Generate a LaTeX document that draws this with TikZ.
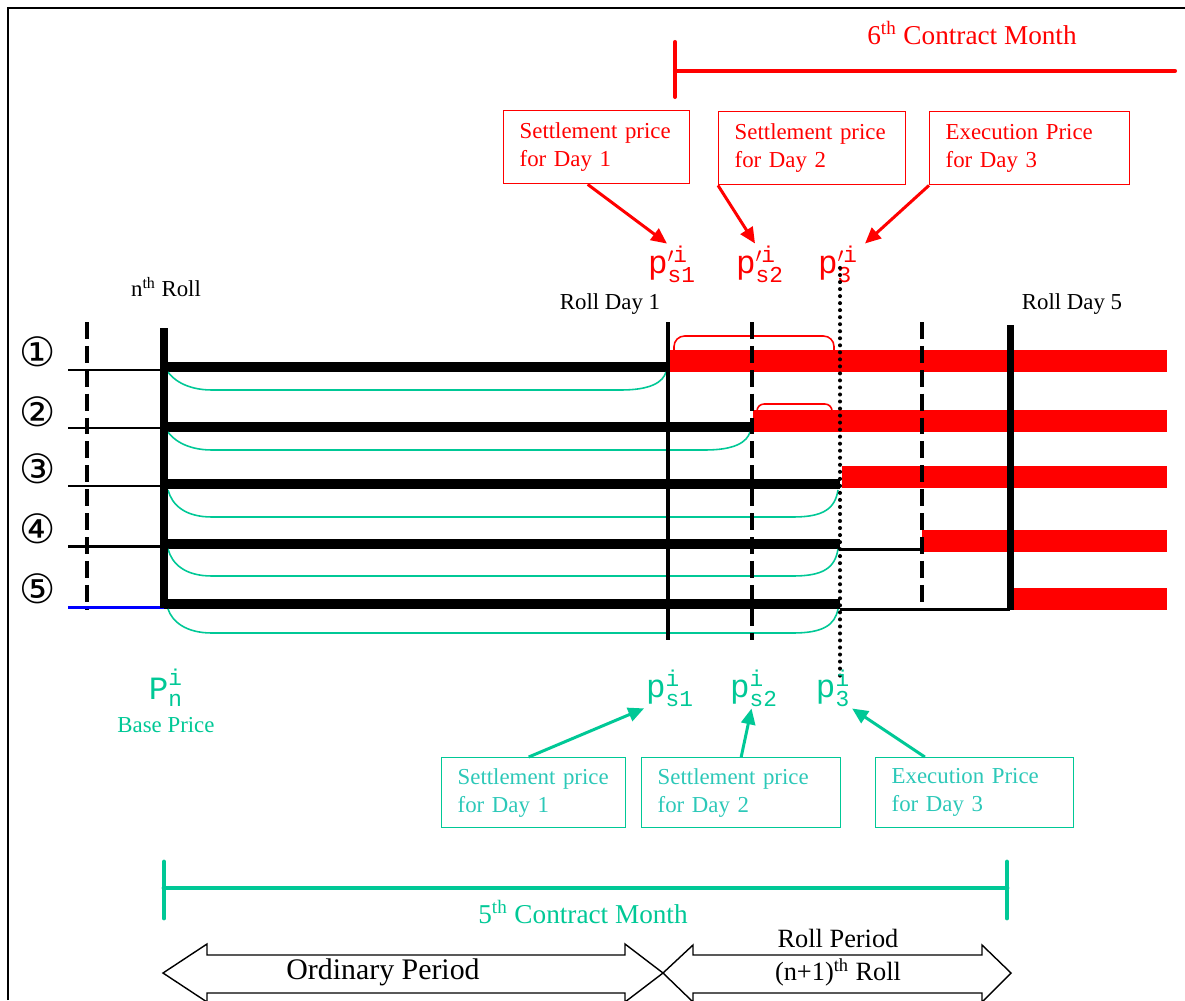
\documentclass[tikz,border=0pt]{standalone}
\usepackage{amsmath}
\usepackage{fontspec}
\setmainfont{Liberation Serif}
\setmonofont{Liberation Mono}
\newfontfamily\circfont{DejaVu Sans}
\usetikzlibrary{arrows.meta,positioning,calc}
\definecolor{MRed}{HTML}{FF0000}
\definecolor{MTeal}{HTML}{00C896}
\definecolor{MAqua}{HTML}{2CC8B8}
\definecolor{MBlue}{HTML}{0000FF}
\newcommand{\prlab}[3]{% {letter}{prime}{subscript}
  $\text{\ttfamily #1}^{\vphantom{\prime}#2\text{\ttfamily i}}_{\text{\ttfamily #3}}$}

\begin{document}
\begin{tikzpicture}[x=0.02cm,y=-0.02cm,
    rbox/.style={draw=MRed,text=MRed,line width=0.8pt,align=left,anchor=north west,
      inner xsep=0.32cm,minimum height=1.46cm,font=\fontsize{13}{16}\selectfont},
    gbox/.style={draw=MTeal,text=MAqua,line width=0.8pt,align=left,anchor=north west,
      inner xsep=0.32cm,minimum height=1.4cm,font=\fontsize{13}{16}\selectfont},
    rarr/.style={draw=MRed,line width=1.7pt,-{Triangle[length=9pt,width=8pt]}},
    garr/.style={draw=MTeal,line width=1.7pt,-{Triangle[length=9pt,width=8pt]}},
    lbl/.style={font=\fontsize{13}{15}\selectfont},
    plbl/.style={font=\fontsize{18.5}{21}\selectfont,inner sep=1pt},
    rowbar/.style={line width=5.7pt},
    redbar/.style={draw=MRed,line width=12.5pt},
    pricecurve/.style={draw=MTeal,line width=0.9pt},
    vdash/.style={line width=2.3pt,dash pattern=on 9.6pt off 4pt},
    twoway/.style={draw,line width=0.8pt,fill=white}]
  \useasboundingbox (0,0) rectangle (1185,1000);
  \draw[line width=1.2pt] (8,1000) -- (8,8) -- (1185,8);

  % 6th contract month
  \draw[MRed,line width=2.3pt,line cap=round] (675,42) -- (675,97) (675,71) -- (1175,71);
  \node[text=MRed,font=\fontsize{15.5}{18}\selectfont] (m6) at (972,33) {6\textsuperscript{th} Contract Month};

  \node[rbox,text width=3.08cm] (rb1) at (503,110) {Settlement price\\for Day 1};
  \node[rbox,text width=3.10cm] (rb2) at (718,111) {Settlement price\\for Day 2};
  \node[rbox,text width=3.36cm] (rb3) at (929,111) {Execution Price\\for Day 3};
  \node[plbl,text=MRed] (rp1) at (672,264) {\prlab{p}{\prime}{s1}};
  \node[plbl,text=MRed] (rp2) at (760,264) {\prlab{p}{\prime}{s2}};
  \node[plbl,text=MRed] (rp3) at (838,264) {\prlab{p}{\prime}{3}};
  \draw[rarr] ([xshift=-0.18cm]rb1.south) -- ([xshift=-0.1cm]rp1.north);
  \draw[rarr] (rb2.south west) -- ([xshift=-0.1cm]rp2.north);
  \draw[rarr] (rb3.south west) -- ([xshift=0.1cm]rp3.north east);

  \node[lbl] (nroll) at (166,287) {n\textsuperscript{th} Roll};
  \node[lbl] (day1) at (610,304) {Roll Day 1};
  \node[lbl] (day5) at (1072,304) {Roll Day 5};

  % positions
  \foreach \k/\y/\e/\ry/\rs in {1/367/668/361/668,2/427/752/421/753,3/484/840/477/842,
      4/544/840/541/922,5/604/840/599/1012}{
    \node[font=\circfont\fontsize{23}{23}\selectfont] (c\k) at (38,{\y-15}) {\ifcase\k\or ①\or ②\or ③\or ④\or ⑤\fi};
    \draw[redbar] (\rs,\ry) -- (1167,\ry);
    \draw[rowbar] (164,\y) -- (\e,\y);
  }
  \foreach \y in {370,428,486,546}
    \draw[line width=1.7pt] (68,\y) -- (164,\y);
  \draw[MBlue,line width=1.7pt] (68,607) -- (164,607);
  \draw[line width=1.7pt] (840,549) -- (922,549) (840,609) -- (1010,609);

  \foreach \t/\b/\e in {372/390/666,432/450/750,490/517/838,549/576/838,609/633/838}
    \draw[pricecurve] (168,\t) .. controls (172,{\b-12}) and (185,\b) .. (212,\b)
      -- ({\e-45},\b) .. controls ({\e-15},\b) and ({\e-3},{\b-8}) .. (\e,\t);
  \draw[MRed,line width=0.9pt,rounded corners=6pt] (674,351) -- (674,336) -- (834,336) -- (834,351);
  \draw[MRed,line width=0.9pt,rounded corners=4pt] (757,411) -- (757,404) -- (832,404) -- (832,411);

  % roll days
  \draw[vdash] (87,322) -- (87,610);
  \draw[line width=4pt] (164,328) -- (164,608);
  \draw[line width=2.8pt] (668,322) -- (668,640);
  \draw[vdash] (752,322) -- (752,640);
  \draw[line width=2.3pt,dash pattern=on 0pt off 4pt,line cap=round] (840,268) -- (840,676);
  \draw[vdash] (922,322) -- (922,610);
  \draw[line width=4pt] (1010,325) -- (1010,610);

  \node[plbl,text=MTeal] (gpn) at (166,688) {\prlab{P}{}{n}};
  \node[lbl,text=MTeal] (base) at (166,725) {Base Price};
  \node[plbl,text=MTeal] (gp1) at (670,688) {\prlab{p}{}{s1}};
  \node[plbl,text=MTeal] (gp2) at (754,688) {\prlab{p}{}{s2}};
  \node[plbl,text=MTeal] (gp3) at (833,688) {\prlab{p}{}{3}};
  \node[gbox,text width=3.04cm] (gb1) at (441,757) {Settlement price\\for Day 1};
  \node[gbox,text width=3.34cm] (gb2) at (641,757) {Settlement price\\for Day 2};
  \node[gbox,text width=3.32cm] (gb3) at (875,757) {Execution Price\\for Day 3};
  \draw[garr] ([xshift=-0.1cm]gb1.north) -- (gp1.south west);
  \draw[garr] (gb2.north) -- ([xshift=-0.05cm]gp2.south);
  \draw[garr] ($(gb3.north west)!0.25!(gb3.north east)$) -- (gp3.south east);

  % 5th contract month
  \draw[MTeal,line width=2.8pt,line cap=round] (164,862) -- (164,918) (1007,862) -- (1007,918)
    (164,888) -- (1007,888);
  \node[text=MTeal,font=\fontsize{15.5}{18}\selectfont] (m5) at (583,912) {5\textsuperscript{th} Contract Month};

  \draw[twoway] (163,973) -- (207,944) -- (207,955) -- (625,955) -- (625,944) -- (663,973)
    -- (625,1002) -- (625,993) -- (207,993) -- (207,1002) -- cycle;
  \draw[twoway] (663,973) -- (693,945) -- (693,955) -- (982,955) -- (982,945) -- (1011,973)
    -- (982,1002) -- (982,993) -- (693,993) -- (693,1002) -- cycle;
  \node[font=\fontsize{17}{20}\selectfont] (ord) at (383,972) {Ordinary Period};
  \node[font=\fontsize{15}{18}\selectfont] (rper) at (838,938) {Roll Period};
  \node[font=\fontsize{15}{18}\selectfont] (nroll1) at (838,972) {(n+1)\textsuperscript{th} Roll};
\end{tikzpicture}
\end{document}
